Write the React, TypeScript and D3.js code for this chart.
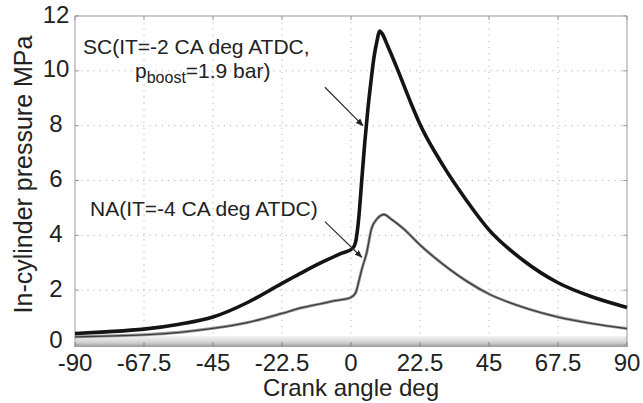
import React from 'react';
import * as d3 from 'd3';

// SC (supercharged) pressure trace
const scAngle = [-90, -80, -67.5, -56, -45, -33.75, -22.5, -17.5, -12.5, -7.5, -3, 0.5, 1.5, 2.5, 3.5, 4.5, 5.5, 6.5, 7.5, 8.5, 9.3, 10, 12, 15, 20, 22.5, 30, 37.5, 45, 56, 67.5, 78.75, 90];
const scPressure = [0.42, 0.48, 0.58, 0.76, 1.02, 1.55, 2.25, 2.55, 2.85, 3.12, 3.35, 3.52, 3.75, 4.6, 6.0, 7.4, 8.6, 9.6, 10.5, 11.1, 11.45, 11.38, 10.9, 10.1, 8.7, 8.05, 6.55, 5.3, 4.2, 3.1, 2.27, 1.75, 1.37];

// NA (naturally aspirated) pressure trace
const naAngle = [-90, -67.5, -45, -33.75, -22.5, -16, -10, -5, -0.3, 1.5, 2.5, 3.5, 5.1, 6.7, 8.5, 10.8, 13, 17, 22.5, 32.3, 37.7, 45, 56, 67.5, 78.75, 90];
const naPressure = [0.3, 0.37, 0.61, 0.82, 1.15, 1.36, 1.5, 1.62, 1.72, 1.9, 2.3, 2.75, 3.36, 4.25, 4.6, 4.76, 4.6, 4.25, 3.65, 2.75, 2.33, 1.86, 1.38, 1.02, 0.78, 0.6];

const xTicks = [-90, -67.5, -45, -22.5, 0, 22.5, 45, 67.5, 90];
const yTicks = [0, 2, 4, 6, 8, 10, 12];

const font = 'Liberation Sans, Arial, sans-serif';

export default function App() {
  const width = 643;
  const height = 403;
  const margin = { top: 16, right: 16, bottom: 58, left: 75 };

  const x = d3.scaleLinear().domain([-90, 90]).range([margin.left, width - margin.right]);
  const y = d3.scaleLinear().domain([0, 12]).range([height - margin.bottom, margin.top]);

  const line = d3.line<[number, number]>()
    .x(d => x(d[0]))
    .y(d => y(d[1]))
    .curve(d3.curveMonotoneX);

  const scPath = line(scAngle.map((a, i) => [a, scPressure[i]] as [number, number])) || '';
  const naPath = line(naAngle.map((a, i) => [a, naPressure[i]] as [number, number])) || '';

  const x0 = x(-90), x1 = x(90), yTop = y(12), yBot = y(0);

  // annotation arrows in data units
  const scArrow = { from: [-8.5, 9.4], to: [3.9, 8.0] };
  const naArrow = { from: [-8.5, 4.5], to: [3.5, 3.2] };

  return (
    <svg width={width} height={height} style={{ position: 'absolute', left: 0, top: 0, background: '#fff' }}>
      <defs>
        <linearGradient id="band" x1="0" y1="0" x2="0" y2="1">
          <stop offset="0" stopColor="#f4f4f4" />
          <stop offset="0.6" stopColor="#d0d0d0" />
          <stop offset="1" stopColor="#9a9a9a" />
        </linearGradient>
        <marker id="arr" viewBox="0 0 10 10" refX="9" refY="5" markerWidth="6" markerHeight="6" orient="auto">
          <path d="M0,1 L10,5 L0,9 z" fill="#222" />
        </marker>
      </defs>

      {/* grid */}
      {xTicks.slice(1, -1).map(t => (
        <line key={'gx' + t} x1={x(t)} x2={x(t)} y1={yTop} y2={yBot} stroke="#b4b4b4" strokeDasharray="1.2,5" />
      ))}
      {yTicks.slice(1, -1).map(t => (
        <line key={'gy' + t} x1={x0} x2={x1} y1={y(t)} y2={y(t)} stroke="#b4b4b4" strokeDasharray="1.2,5" />
      ))}

      {/* bottom band */}
      <rect x={x0} y={yBot - 9} width={x1 - x0} height={11} fill="url(#band)" />

      {/* frame */}
      <line x1={x0} x2={x1} y1={yTop} y2={yTop} stroke="#999" />
      <line x1={x1} x2={x1} y1={yTop} y2={yBot + 2} stroke="#999" />
      <line x1={x0} x2={x0} y1={yTop} y2={yBot + 2} stroke="#c2b6c8" strokeWidth={1.5} />

      {/* ticks */}
      {xTicks.map(t => (
        <g key={'tx' + t}>
          <line x1={x(t)} x2={x(t)} y1={yBot + 2} y2={yBot - 3} stroke="#888" />
          <line x1={x(t)} x2={x(t)} y1={yTop} y2={yTop + 4} stroke="#999" />
          <text x={x(t)} y={yBot + 20} textAnchor="middle" dominantBaseline="middle" fontFamily={font} fontSize={24} fill="#222">{t}</text>
        </g>
      ))}
      {yTicks.map(t => (
        <g key={'ty' + t}>
          <line x1={x0} x2={x0 + 4} y1={y(t)} y2={y(t)} stroke="#999" />
          <line x1={x1} x2={x1 - 4} y1={y(t)} y2={y(t)} stroke="#999" />
          <text x={56} y={y(t) + (t === 12 ? 1 : t === 0 ? -3 : 0)} textAnchor="middle" dominantBaseline="middle" fontFamily={font} fontSize={24} fill="#222">{t}</text>
        </g>
      ))}

      {/* curves */}
      <path d={naPath} fill="none" stroke="#9a9a9a" strokeWidth={3} />
      <path d={naPath} fill="none" stroke="#3c3c3c" strokeWidth={1.3} />
      <path d={scPath} fill="none" stroke="#141414" strokeWidth={3.6} strokeLinejoin="round" />

      {/* annotations */}
      <line x1={x(scArrow.from[0])} y1={y(scArrow.from[1])} x2={x(scArrow.to[0])} y2={y(scArrow.to[1])} stroke="#333" strokeWidth={1.3} markerEnd="url(#arr)" />
      <line x1={x(naArrow.from[0])} y1={y(naArrow.from[1])} x2={x(naArrow.to[0])} y2={y(naArrow.to[1])} stroke="#333" strokeWidth={1.3} markerEnd="url(#arr)" />

      <text x={83} y={48} dominantBaseline="middle" fontFamily={font} fontSize={21} fill="#222">SC(IT=-2 CA deg ATDC,</text>
      <text x={135} y={72} dominantBaseline="middle" fontFamily={font} fontSize={21} fill="#222">
        p<tspan fontSize={16} dy={7}>boost</tspan><tspan dy={-7}>=1.9 bar)</tspan>
      </text>
      <text x={90} y={210} dominantBaseline="middle" fontFamily={font} fontSize={21} fill="#222">NA(IT=-4 CA deg ATDC)</text>

      {/* axis titles */}
      <text x={x(0)} y={390} textAnchor="middle" dominantBaseline="middle" fontFamily={font} fontSize={24} fill="#222">Crank angle deg</text>
      <text transform={`translate(25,${(yTop + yBot) / 2 - 6}) rotate(-90)`} textAnchor="middle" dominantBaseline="middle" fontFamily={font} fontSize={25} fill="#222">In-cylinder pressure MPa</text>
    </svg>
  );
}
